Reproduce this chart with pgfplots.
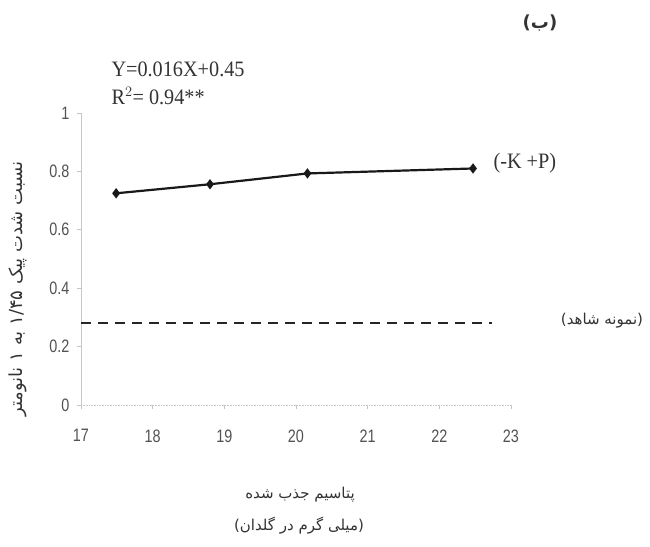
\documentclass[border=0pt]{standalone}
\usepackage{fontspec}
\usepackage{pgfplots}
\pgfplotsset{compat=1.18}
\setmainfont{Liberation Serif}
\newfontfamily\numfont[FakeStretch=0.8]{Liberation Sans}
\newfontfamily\eqfont[FakeStretch=0.92]{Liberation Serif}
\newfontfamily\fafont[Script=Arabic]{DejaVu Sans}
\TeXXeTstate=1
\definecolor{ink}{gray}{0.2}
\definecolor{axisgray}{gray}{0.78}

\pgfplotstableread{
x      y
17.49  0.725
18.80  0.756
20.16  0.793
22.47  0.810
}\treated

\pgfplotstableread{
x      y
17.00  0.28
22.73  0.28
}\control

\begin{document}
\begin{tikzpicture}
\path[use as bounding box] (-81pt,-141pt) rectangle (569pt,405pt);
\begin{axis}[
  at={(0pt,0pt)}, anchor=south west,
  scale only axis, width=430pt, height=292pt,
  xmin=17, xmax=23, ymin=0, ymax=1,
  xtick={17,18,...,23}, ytick={0,0.2,...,1},
  axis x line=bottom, axis y line=left,
  axis line style={draw=axisgray, line width=0.6pt, -},
  x axis line style={densely dotted},
  tick style={draw=axisgray, line width=0.6pt},
  tick align=outside, major tick length=4pt,
  /pgf/number format/assume math mode=true,
  ticklabel style={font=\numfont\fontsize{18}{18}\selectfont, text=ink!85},
  xticklabel style={yshift=-17pt},
  yticklabel style={xshift=-4pt},
  clip=false,
]
\addplot[black!90, line width=2.2pt, mark=diamond*, mark size=3.4pt] table[x=x, y=y] {\treated};
\addplot[black!85, line width=2pt, dash pattern=on 10pt off 7pt] table[x=x, y=y] {\control};
\end{axis}

% regression equation
\node[anchor=west, text=ink, font=\eqfont\fontsize{22}{26}\selectfont] at (27pt,336pt) {Y=0.016X+0.45};
\node[anchor=west, text=ink, font=\eqfont\fontsize{22}{26}\selectfont] at (27pt,309pt) {R$^{2}$= 0.94**};

% series labels
\node[anchor=west, text=ink, font=\eqfont\fontsize{22}{26}\selectfont] at (409pt,242pt) {(-K +P)};
\node[text=ink, font=\fafont\fontsize{15}{18}\selectfont] at (521pt,84pt) {\beginR(نمونه شاهد)\endR};

% panel letter
\node[text=ink, font=\fafont\bfseries\fontsize{18}{20}\selectfont] at (459pt,382pt) {\beginR(ب)\endR};

% axis titles
\node[rotate=90, text=ink, font=\fafont\fontsize{18}{20}\selectfont] at (-63pt,116pt)
  {\beginR نسبت شدت پیک \beginL۱/۴۵\endL{} به ۱ نانومتر\endR};
\node[text=ink, font=\fafont\fontsize{15}{18}\selectfont] at (219pt,-90pt) {\beginR پتاسیم جذب شده\endR};
\node[text=ink, font=\fafont\fontsize{15}{18}\selectfont] at (218pt,-121pt) {\beginR(میلی گرم در گلدان)\endR};
\end{tikzpicture}
\end{document}
